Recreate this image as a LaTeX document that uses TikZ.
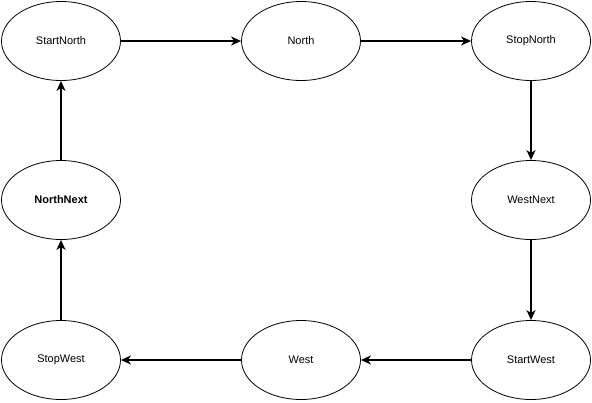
\documentclass[tikz,border=0pt]{standalone}
\usepackage{fontspec}
\setmainfont{Liberation Sans}
\usetikzlibrary{shapes.geometric,arrows.meta,positioning}

\begin{document}
\begin{tikzpicture}[x=1pt,y=-1pt,
    stateNode/.style={ellipse,draw,line width=0.8pt,minimum width=119pt,minimum height=79pt,
      inner sep=0pt,font=\fontsize{11}{13}\selectfont},
    flowArrow/.style={-{Stealth[length=10pt,width=9pt,inset=3pt]},line width=2pt}]
        \useasboundingbox (0,0) rectangle (592,402);
        % Top row
        \node[stateNode] (startNorth) at (61,41) {StartNorth};
        \node[stateNode] (north) at (301,41) {North};
        \node[stateNode] (stopNorth) at (531,41) {StopNorth};
        % Middle row
        \node[stateNode] (westNext) at (531,200) {WestNext};
        \node[stateNode,font=\fontsize{11}{13}\selectfont\bfseries] (northNext) at (61,200) {NorthNext};
        % Bottom row
        \node[stateNode] (startWest) at (531,360) {StartWest};
        \node[stateNode] (west) at (301,360) {West};
        \node[stateNode] (stopWest) at (61,360) {StopWest};
        % Cycle
        \draw[flowArrow] (startNorth) -- (north);
        \draw[flowArrow] (north) -- (stopNorth);
        \draw[flowArrow] (stopNorth) -- (westNext);
        \draw[flowArrow] (westNext) -- (startWest);
        \draw[flowArrow] (startWest) -- (west);
        \draw[flowArrow] (west) -- (stopWest);
        \draw[flowArrow] (stopWest) -- (northNext);
        \draw[flowArrow] (northNext) -- (startNorth);
      \end{tikzpicture}
\end{document}
